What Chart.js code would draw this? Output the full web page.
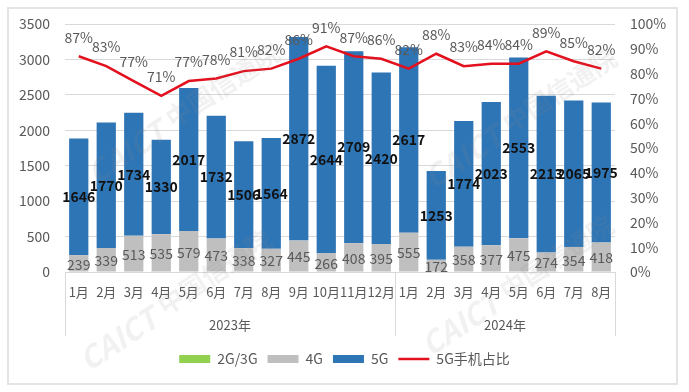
<!DOCTYPE html>
<html>
<head>
<meta charset="utf-8">
<script src="https://cdn.jsdelivr.net/npm/chart.js@4.4.0/dist/chart.umd.min.js"></script>
<style>
  html, body { margin: 0; padding: 0; background: #fff; }
  #frame { position: absolute; left: 7px; top: 7px; width: 667px; height: 374px; border: 2px solid #e4e4e4; }
  #wrap { position: absolute; left: 0; top: 0; width: 689px; height: 392px; }
</style>
</head>
<body>
<div id="frame"></div>
<div id="wrap"><canvas id="c" width="689" height="392"></canvas></div>
<script>
// 出货量（万部）
const months = ['1月','2月','3月','4月','5月','6月','7月','8月','9月','10月','11月','12月',
                '1月','2月','3月','4月','5月','6月','7月','8月'];
const yearLabels = ['2023年', '2024年'];
const yearCounts = [12, 8];
const g23 = [0,0,0,0,0,0,0,0,0,0,0,0,0,0,0,0,0,0,0,0];
const g4 = [239,339,513,535,579,473,338,327,445,266,408,395,555,172,358,377,475,274,354,418];
const g5 = [1646,1770,1734,1330,2017,1732,1506,1564,2872,2644,2709,2420,2617,1253,1774,2023,2553,2213,2065,1975];
const share5g = [87,83,77,71,77,78,81,82,86,91,87,86,82,88,83,84,84,89,85,82];
const leftTicks = [0,500,1000,1500,2000,2500,3000,3500];

const FONT = "'Microsoft YaHei','Noto Sans CJK SC','Noto Sans',sans-serif";
const GREY = '#595959';

// 数据标签
const labelPlugin = {
  id: 'labels',
  afterDatasetsDraw(chart) {
    const ctx = chart.ctx;
    ctx.save();
    ctx.textAlign = 'center';
    ctx.textBaseline = 'middle';

    ctx.font = '14px ' + FONT;
    ctx.fillStyle = GREY;
    chart.getDatasetMeta(1).data.forEach((bar, i) => {
      ctx.fillText(g4[i], bar.x, (bar.y + bar.base) / 2 + 1);
    });

    ctx.font = 'bold 14px ' + FONT;
    ctx.fillStyle = '#111';
    chart.getDatasetMeta(2).data.forEach((bar, i) => {
      ctx.fillText(g5[i], bar.x, (bar.y + bar.base) / 2);
    });

    ctx.font = '14px ' + FONT;
    ctx.fillStyle = GREY;
    chart.getDatasetMeta(3).data.forEach((pt, i) => {
      ctx.fillText(share5g[i] + '%', pt.x, pt.y - 19);
    });
    ctx.restore();
  }
};

// 年份分组 + 水印
const yearPlugin = {
  id: 'years',
  afterDraw(chart) {
    const ctx = chart.ctx;
    const xs = chart.scales.x;
    const area = chart.chartArea;
    const half = (xs.getPixelForValue(1) - xs.getPixelForValue(0)) / 2;
    ctx.save();
    ctx.strokeStyle = '#d9d9d9';
    ctx.lineWidth = 1;
    ctx.fillStyle = GREY;
    ctx.font = '13px ' + FONT;
    ctx.textAlign = 'center';
    ctx.textBaseline = 'middle';
    let start = 0;
    yearCounts.forEach((n, k) => {
      const x0 = xs.getPixelForValue(start) - half;
      const x1 = xs.getPixelForValue(start + n - 1) + half;
      [x0, x1].forEach(x => {
        ctx.beginPath();
        ctx.moveTo(Math.round(x) + 0.5, area.bottom);
        ctx.lineTo(Math.round(x) + 0.5, area.bottom + 64);
        ctx.stroke();
      });
      ctx.fillText(yearLabels[k], (x0 + x1) / 2, area.bottom + 53);
      start += n;
    });

    // CAICT 水印
    [[178, 118], [170, 305], [515, 123], [512, 290]].forEach(([cx, cy]) => {
      ctx.save();
      ctx.translate(cx, cy);
      ctx.rotate(-0.58);
      ctx.globalAlpha = 0.12;
      ctx.fillStyle = '#8a8a8a';
      ctx.textAlign = 'left';
      ctx.font = 'italic bold 30px ' + FONT;
      ctx.fillText('CAICT', -105, 0);
      ctx.font = 'bold 26px ' + FONT;
      ctx.fillText('中国信通院', -10, -3);
      ctx.restore();
    });
    ctx.restore();
  }
};

new Chart(document.getElementById('c'), {
  data: {
    labels: months,
    datasets: [
      { type: 'bar', label: '2G/3G', data: g23, backgroundColor: '#92d050', yAxisID: 'y', stack: 's' },
      { type: 'bar', label: '4G', data: g4, backgroundColor: '#bfbfbf', yAxisID: 'y', stack: 's' },
      { type: 'bar', label: '5G', data: g5, backgroundColor: '#2e75b6', yAxisID: 'y', stack: 's' },
      { type: 'line', label: '5G手机占比', data: share5g, borderColor: '#e3101e', backgroundColor: '#e3101e',
        borderWidth: 2.5, pointRadius: 0, tension: 0, yAxisID: 'y2', order: -1 }
    ]
  },
  options: {
    responsive: false,
    devicePixelRatio: 1,
    animation: false,
    layout: { padding: { top: 24, left: 0, right: 0, bottom: 16 } },
    datasets: { bar: { barPercentage: 0.7, categoryPercentage: 1 } },
    plugins: {
      tooltip: { enabled: false },
      legend: {
        position: 'bottom',
        labels: {
          font: { size: 14, family: FONT },
          color: GREY,
          usePointStyle: true,
          pointStyleWidth: 31,
          boxHeight: 8,
          padding: 10,
          sort: (a, b) => a.datasetIndex - b.datasetIndex,
          generateLabels(chart) {
            return chart.data.datasets.map((ds, i) => ({
              text: ds.label,
              datasetIndex: i,
              fillStyle: ds.type === 'line' ? ds.borderColor : ds.backgroundColor,
              strokeStyle: ds.type === 'line' ? ds.borderColor : ds.backgroundColor,
              lineWidth: ds.type === 'line' ? 2.5 : 0,
              pointStyle: ds.type === 'line' ? 'line' : 'rect',
              fontColor: GREY,
              hidden: false
            }));
          }
        }
      }
    },
    scales: {
      x: {
        stacked: true,
        grid: { display: false, drawTicks: false },
        border: { color: '#d9d9d9' },
        ticks: { autoSkip: false, maxRotation: 0, padding: 12, color: GREY, font: { size: 13, family: FONT } },
        afterFit: s => { s.height = 70; }
      },
      y: {
        stacked: true,
        position: 'left',
        min: 0, max: 3500,
        afterBuildTicks: s => { s.ticks = leftTicks.map(v => ({ value: v })); },
        grid: { color: '#d9d9d9', drawTicks: false },
        border: { display: false },
        ticks: { padding: 15, color: GREY, font: { size: 14, family: FONT }, callback: v => String(v) },
        afterFit: s => { s.width = 65; }
      },
      y2: {
        position: 'right',
        min: 0, max: 100,
        ticks: { stepSize: 10, padding: 15, color: GREY, font: { size: 14, family: FONT },
                 callback: v => v + '%' },
        grid: { display: false, drawTicks: false },
        border: { display: false },
        afterFit: s => { s.width = 74; }
      }
    }
  },
  plugins: [labelPlugin, yearPlugin]
});
</script>
</body>
</html>
